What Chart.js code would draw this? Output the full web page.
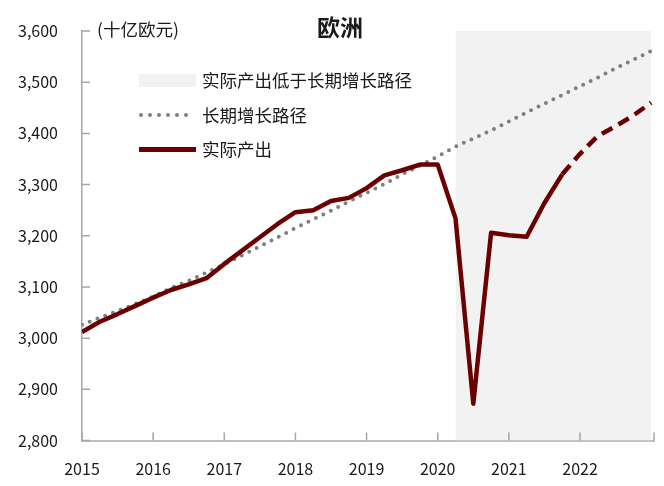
<!DOCTYPE html>
<html lang="zh">
<head>
<meta charset="UTF-8">
<title>欧洲</title>
<script src="https://cdn.jsdelivr.net/npm/chart.js"></script>
<style>
  body { margin: 0; background: #fff; }
  .wrap { position: relative; width: 664px; height: 486px; font-family: "Noto Sans CJK SC", sans-serif; color: #1a1a1a; }
  .txt { position: absolute; white-space: nowrap; line-height: 1; }
  .lg { font-size: 17.5px; left: 202px; }
  .sym { position: absolute; left: 139px; }
</style>
</head>
<body>
<div class="wrap">
  <canvas id="chart" width="664" height="486"></canvas>
  <div class="txt" style="left:317px; top:15px; font-size:23px; font-weight:bold;">欧洲</div>
  <div class="txt" style="left:97px; top:20px; font-size:17.5px;">(十亿欧元)</div>

  <div class="sym" style="top:74px; width:57px; height:13px; background:#f2f2f2;"></div>
  <div class="txt lg" style="top:71px;">实际产出低于长期增长路径</div>

  <svg class="sym" style="top:111px;" width="60" height="8">
    <line x1="2" y1="4" x2="56" y2="4" stroke="#808080" stroke-width="4" stroke-linecap="round" stroke-dasharray="0 9"></line>
  </svg>
  <div class="txt lg" style="top:106px;">长期增长路径</div>

  <div class="sym" style="top:147px; width:57px; height:5px; background:#6a0000;"></div>
  <div class="txt lg" style="top:140px;">实际产出</div>
</div>

<script>
  // quarterly points, 2015 to 2023
  const quarters = [2015, 2015.25, 2015.5, 2015.75, 2016, 2016.25, 2016.5, 2016.75,
                    2017, 2017.25, 2017.5, 2017.75, 2018, 2018.25, 2018.5, 2018.75,
                    2019, 2019.25, 2019.5, 2019.75, 2020, 2020.25, 2020.5, 2020.75,
                    2021, 2021.25, 2021.5, 2021.75, 2022, 2022.25, 2022.5, 2022.75, 2023];
  const actual = [3012, 3032, 3047, 3063, 3079, 3094, 3105, 3117,
                  3145, 3171, 3197, 3223, 3246, 3250, 3268, 3274,
                  3293, 3318, 3328, 3339, 3339, 3234, 2872, 3206,
                  3201, 3198, 3264, 3320, 3360, 3395, 3414, 3435, 3460];
  const trend = [3026, 3040, 3053, 3067, 3081, 3098, 3112, 3128,
                 3144, 3162, 3179, 3197, 3215, 3232, 3249, 3267,
                 3284, 3301, 3320, 3337, 3355, 3374, 3390, 3406,
                 3423, 3441, 3458, 3475, 3492, 3509, 3527, 3544, 3561];
  const dashFrom = 27;          // forecast part is dashed
  const shadeFrom = 2020.25;    // output below trend
  const shadeTo = 2023;
  const yMin = 2800, yMax = 3600;

  const pts = arr => arr.map((v, i) => ({ x: quarters[i], y: v }));
  const FONT = { family: '"Noto Sans CJK SC", sans-serif', size: 16 };

  // tick marks point into the plot, like the original
  const innerTicks = {
    id: 'innerTicks',
    afterDatasetsDraw(chart) {
      const { ctx, chartArea, scales: { x, y } } = chart;
      ctx.save();
      ctx.strokeStyle = '#a6a6a6';
      ctx.lineWidth = 1.5;
      ctx.beginPath();
      x.ticks.forEach(t => {
        if (t.value > 2022.5) return;
        const px = x.getPixelForValue(t.value);
        ctx.moveTo(px, chartArea.bottom);
        ctx.lineTo(px, chartArea.bottom - 8);
      });
      ctx.moveTo(chartArea.right, chartArea.bottom);
      ctx.lineTo(chartArea.right, chartArea.bottom - 8);
      y.ticks.forEach(t => {
        const py = y.getPixelForValue(t.value);
        ctx.moveTo(chartArea.left, py);
        ctx.lineTo(chartArea.left + 8, py);
      });
      ctx.stroke();
      ctx.restore();
    }
  };

  new Chart(document.getElementById('chart'), {
    type: 'line',
    data: {
      datasets: [
        {
          label: '实际产出',
          data: pts(actual),
          borderColor: '#6a0000',
          borderWidth: 4.5,
          borderJoinStyle: 'round',
          pointRadius: 0,
          segment: {
            borderDash: ctx => ctx.p0DataIndex >= dashFrom ? [12, 7] : undefined
          }
        },
        {
          label: '长期增长路径',
          data: pts(trend),
          borderColor: '#808080',
          borderWidth: 4,
          borderDash: [0, 8.3],
          borderCapStyle: 'round',
          pointRadius: 0
        },
        {
          label: '实际产出低于长期增长路径',
          data: [{ x: shadeFrom, y: yMax }, { x: shadeTo, y: yMax }],
          backgroundColor: '#f2f2f2',
          borderWidth: 0,
          fill: 'start',
          pointRadius: 0
        }
      ]
    },
    options: {
      responsive: false,
      animation: false,
      events: [],
      locale: 'en-US',
      layout: { padding: { top: 31, right: 10, left: 0, bottom: 0 } },
      plugins: { legend: { display: false }, tooltip: { enabled: false } },
      scales: {
        x: {
          type: 'linear',
          min: 2015,
          max: 2023.04,
          afterFit: s => { s.height = 45.5; s.paddingLeft = 0; s.paddingRight = 0; },
          grid: { drawOnChartArea: false, drawTicks: false },
          border: { color: '#bfbfbf', width: 2 },
          ticks: {
            stepSize: 1,
            includeBounds: false,
            padding: 19,
            font: FONT,
            color: '#1a1a1a',
            callback: v => (v < 2022.5 ? String(v) : '')
          }
        },
        y: {
          min: yMin,
          max: yMax,
          afterFit: s => { s.width = 82; s.paddingTop = 0; s.paddingBottom = 0; },
          grid: { drawOnChartArea: false, drawTicks: false },
          border: { color: '#a6a6a6', width: 1.5 },
          ticks: { stepSize: 100, padding: 24, font: FONT, color: '#1a1a1a' }
        }
      }
    },
    plugins: [innerTicks]
  });
</script>
</body>
</html>
